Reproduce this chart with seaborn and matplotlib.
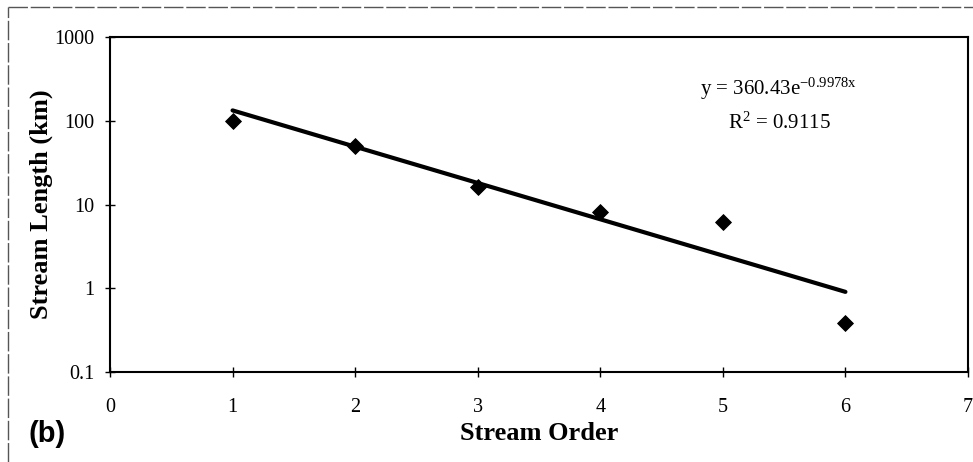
import matplotlib
matplotlib.use("Agg")
import matplotlib.pyplot as plt
from matplotlib.lines import Line2D
import numpy as np
import pandas as pd
import seaborn as sns

# data (panel b)
stream_order = [1, 2, 3, 4, 5, 6]
stream_length_km = [100, 50, 16, 8.2, 6.1, 0.38]

# exponential trendline as printed on the chart
fit_a = 360.43
fit_b = -0.9978
fit_r2 = 0.9115

y_ticks = [0.1, 1, 10, 100, 1000]
y_tick_labels = ["0.1", "1", "10", "100", "1000"]
x_ticks = [0, 1, 2, 3, 4, 5, 6, 7]

sns.set_theme(style="white")
plt.rcParams["font.family"] = ["Liberation Serif", "DejaVu Serif"]
plt.rcParams["mathtext.fontset"] = "custom"
plt.rcParams["mathtext.rm"] = "Liberation Serif"
plt.rcParams["mathtext.it"] = "Liberation Serif"

W, H = 973, 462
fig = plt.figure(figsize=(W / 100, H / 100), dpi=100)
ax = fig.add_axes([110 / W, 1 - 372 / H, (968 - 110) / W, (372 - 37) / H])

df = pd.DataFrame({"order": stream_order, "length": stream_length_km})
fit_x = np.linspace(min(stream_order), max(stream_order), 50)
fit_df = pd.DataFrame({"order": fit_x, "length": fit_a * np.exp(fit_b * fit_x)})

sns.lineplot(data=fit_df, x="order", y="length", ax=ax, color="black",
             linewidth=3, zorder=2)
sns.scatterplot(data=df, x="order", y="length", ax=ax, marker="D", s=65,
                color="black", edgecolor="black", zorder=3)

ax.set_yscale("log")
ax.set_xlim(0, 7)
ax.set_ylim(0.1, 1000)
ax.set_yticks(y_ticks)
ax.set_yticklabels(y_tick_labels)
ax.set_xticks(x_ticks)
ax.minorticks_off()
ax.yaxis.set_minor_locator(matplotlib.ticker.NullLocator())

ax.tick_params(axis="both", direction="inout", length=7, width=1, color="black",
               labelsize=14.5, labelcolor="black")
ax.tick_params(axis="y", left=True, pad=8)
ax.tick_params(axis="x", bottom=True, pad=15)

for sp in ax.spines.values():
    sp.set_color("black")
    sp.set_linewidth(1.5)

ax.set_xlabel("Stream Order", fontsize=19, fontweight="bold", color="black", labelpad=4)
ax.set_ylabel("Stream Length (km)", fontsize=19, fontweight="bold", color="black", labelpad=1)

fig.text(700 / W, 1 - 89 / H, r"y = 360.43e$^{\mathrm{%.4fx}}$" % fit_b,
         fontsize=15, ha="left", va="center", color="black")
fig.text(779 / W, 1 - 123 / H, "R$^{2}$ = %.4f" % fit_r2,
         fontsize=15, ha="center", va="center", color="black")

fig.text(28 / W, 1 - 434 / H, "(b)", fontsize=21, fontweight="bold",
         family=["Liberation Sans", "DejaVu Sans"], ha="left", va="center", color="black")

# scanned frame edges
fig.add_artist(Line2D([8 / W, 1], [1 - 7 / H, 1 - 7 / H], transform=fig.transFigure,
                      color="#555555", linewidth=1, linestyle=(0, (14, 2))))
fig.add_artist(Line2D([8 / W, 8 / W], [0, 1 - 7 / H], transform=fig.transFigure,
                      color="#555555", linewidth=1, linestyle=(0, (14, 2))))

fig.savefig("out.png", dpi=100, facecolor="white")
